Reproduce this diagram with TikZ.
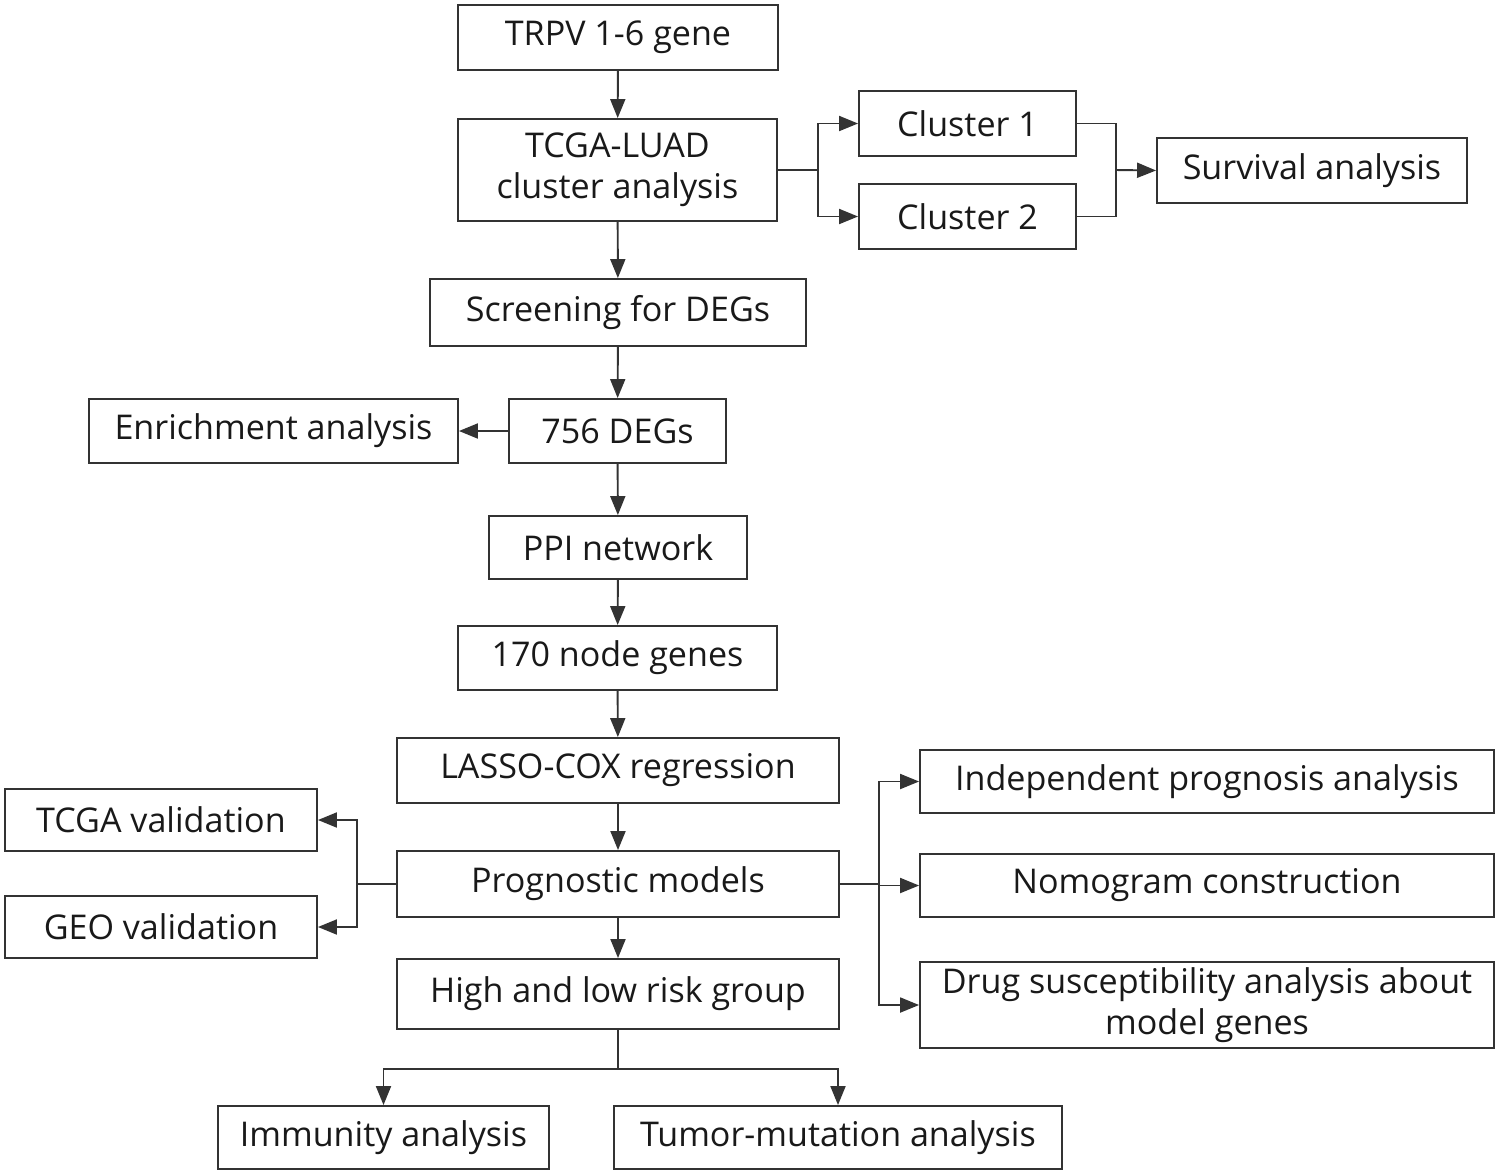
\documentclass[tikz,border=0pt]{standalone}
\usepackage{fontspec}
\setmainfont{Open Sans}
\usetikzlibrary{arrows.meta}
\begin{document}
\begin{tikzpicture}[x=0.02cm, y=-0.02cm, color=black!80, line width=1.1pt,
  box/.style={draw, inner sep=0pt, align=center,
    text=black!90, font=\fontsize{19.4}{23.5}\selectfont},
  arr/.style={-{Triangle[length=0.38cm,width=0.3cm]}}]
\useasboundingbox (0,0) rectangle (1498,1174);

\node[box, minimum width=6.4cm, minimum height=1.3cm] (trpv) at (618,37.5) {TRPV 1-6 gene};
\node[box, minimum width=6.38cm, minimum height=2.04cm] (tcga) at (617.5,170) {TCGA-LUAD\\cluster analysis};
\node[box, minimum width=4.34cm, minimum height=1.3cm] (clusterA) at (967.5,123.5) {Cluster 1};
\node[box, minimum width=4.34cm, minimum height=1.3cm] (clusterB) at (967.5,216.5) {Cluster 2};
\node[box, minimum width=6.2cm, minimum height=1.3cm] (surv) at (1312,170.5) {Survival analysis};
\node[box, minimum width=7.52cm, minimum height=1.34cm] (screen) at (618,312.5) {Screening for DEGs};
\node[box, minimum width=4.34cm, minimum height=1.28cm] (degs) at (617.5,431) {756 DEGs};
\node[box, minimum width=7.38cm, minimum height=1.28cm] (enrich) at (273.5,431) {Enrichment analysis};
\node[box, minimum width=5.16cm, minimum height=1.26cm] (ppi) at (618,547.5) {PPI network};
\node[box, minimum width=6.38cm, minimum height=1.28cm] (hubs) at (617.5,658) {170 node genes};
\node[box, minimum width=8.84cm, minimum height=1.3cm] (lasso) at (618,770.5) {LASSO-COX regression};
\node[box, minimum width=8.84cm, minimum height=1.32cm] (prog) at (618,884) {Prognostic models};
\node[box, minimum width=8.84cm, minimum height=1.4cm] (risk) at (618,994) {High and low risk group};
\node[box, minimum width=6.24cm, minimum height=1.24cm] (tcgaval) at (161,820) {TCGA validation};
\node[box, minimum width=6.24cm, minimum height=1.24cm] (geoval) at (161,927) {GEO validation};
\node[box, minimum width=11.48cm, minimum height=1.26cm] (indep) at (1207,781.5) {Independent prognosis analysis};
\node[box, minimum width=11.48cm, minimum height=1.26cm] (nomo) at (1207,885.5) {Nomogram construction};
\node[box, minimum width=11.48cm, minimum height=1.72cm] (drug) at (1207,1005) {Drug susceptibility analysis about\\model genes};
\node[box, minimum width=6.62cm, minimum height=1.26cm] (immun) at (383.5,1137.5) {Immunity analysis};
\node[box, minimum width=8.96cm, minimum height=1.26cm] (tumor) at (838,1137.5) {Tumor-mutation analysis};

% main column
\draw[arr] (trpv) -- (tcga);
\draw[arr] (tcga) -- (screen);
\draw[arr] (screen) -- (degs);
\draw[arr] (degs) -- (enrich);
\draw[arr] (degs) -- (ppi);
\draw[arr] (ppi) -- (hubs);
\draw[arr] (hubs) -- (lasso);
\draw[arr] (lasso) -- (prog);
\draw[arr] (prog) -- (risk);

% clusters
\coordinate (splitA) at (818,170);
\coordinate (joinA) at (1116,170);
\draw (tcga.east) -- (splitA);
\draw[arr] (splitA) |- (clusterA.west);
\draw[arr] (splitA) |- (clusterB.west);
\draw (clusterA.east) -| (joinA);
\draw (clusterB.east) -| (joinA);
\draw[arr] (joinA) -- (surv.west);

% validation
\coordinate (splitB) at (357,884);
\draw (prog.west) -- (splitB);
\draw[arr] (splitB) |- (tcgaval.east);
\draw[arr] (splitB) |- (geoval.east);

% model analyses
\coordinate (splitC) at (879,884);
\draw (prog.east) -- (splitC);
\draw[arr] (splitC) |- (indep.west);
\draw[arr] (splitC) |- (nomo.west);
\draw[arr] (splitC) |- (drug.west);

% risk groups
\coordinate (splitD) at (618,1069);
\draw (risk.south) -- (splitD);
\draw[arr] (splitD) -| (immun.north);
\draw[arr] (splitD) -| (tumor.north);
\end{tikzpicture}
\end{document}
